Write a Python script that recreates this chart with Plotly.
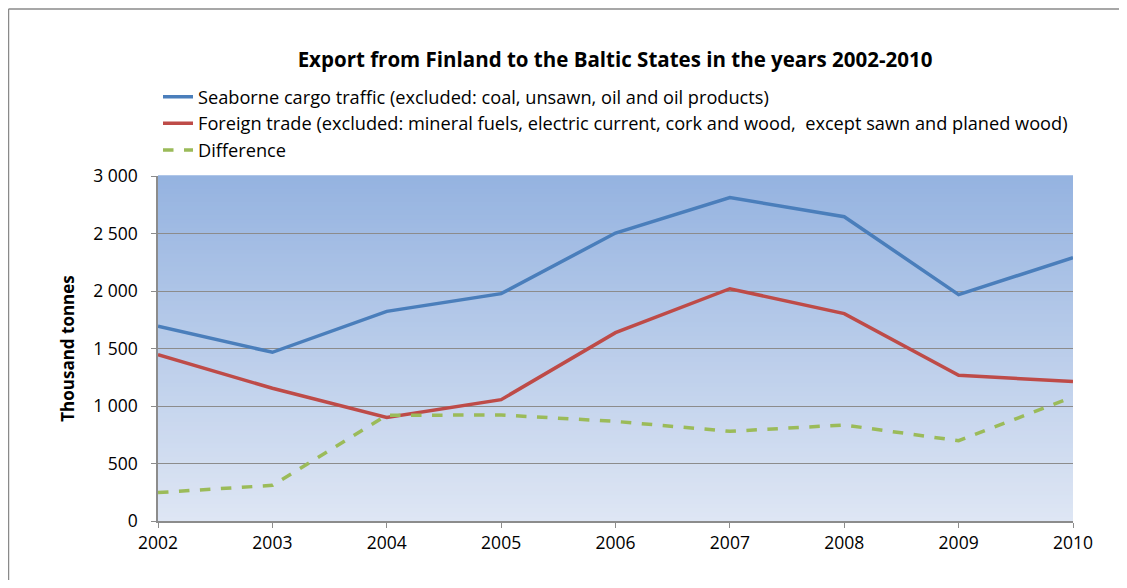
import plotly.graph_objects as go

years = [2002, 2003, 2004, 2005, 2006, 2007, 2008, 2009, 2010]
seaborne = [1693, 1467, 1823, 1977, 2504, 2812, 2646, 1968, 2290]
foreign_trade = [1446, 1154, 901, 1055, 1638, 2020, 1803, 1267, 1212]
difference = [247, 310, 919, 922, 866, 780, 835, 698, 1078]

_BLUE = '#4A7EBB'
_RED = '#BE4B48'
_GREEN = '#9BBB59'
_GRID = '#8C8C8C'
_FONT = 'Open Sans'

fig = go.Figure()
fig.add_trace(go.Scatter(
    x=years, y=seaborne, mode='lines',
    name='Seaborne cargo traffic (excluded: coal, unsawn, oil and oil products)',
    line=dict(color=_BLUE, width=3.5),
))
fig.add_trace(go.Scatter(
    x=years, y=foreign_trade, mode='lines',
    name='Foreign trade (excluded: mineral fuels, electric current, cork and wood,  except sawn and planed wood)',
    line=dict(color=_RED, width=3.5),
))
fig.add_trace(go.Scatter(
    x=years, y=difference, mode='lines', name='Difference',
    line=dict(color=_GREEN, width=3.5, dash='dash'),
))

# vertical gradient behind the plot area, built from thin strips
top = (149, 179, 224)
bottom = (222, 230, 244)
n = 80
shapes = []
for i in range(n):
    t = i / (n - 1)
    c = tuple(round(bottom[k] + (top[k] - bottom[k]) * t) for k in range(3))
    shapes.append(dict(
        type='rect', xref='x domain', yref='y domain',
        x0=0, x1=1, y0=i / n, y1=(i + 1) / n + 0.002,
        fillcolor='rgb(%d,%d,%d)' % c, line=dict(width=0), layer='below',
    ))

# chart frame (left and top edges visible)
shapes.append(dict(type='line', xref='paper', yref='paper',
                   x0=-0.1634, x1=-0.1634, y0=-0.3, y1=1.484,
                   line=dict(color='#8A8A8A', width=1.5)))
shapes.append(dict(type='line', xref='paper', yref='paper',
                   x0=-0.1634, x1=1.2, y0=1.484, y1=1.484,
                   line=dict(color='#8A8A8A', width=1.5)))

fig.update_layout(
    width=1111, height=572,
    paper_bgcolor='white', plot_bgcolor='rgba(0,0,0,0)',
    font=dict(family=_FONT, size=17.5, color='black'),
    margin=dict(l=150, r=46, t=168, b=59),
    separators='. ',
    title=dict(
        text='<b>Export from Finland to the Baltic States in the years 2002-2010</b>',
        x=0.4995, xref='paper', xanchor='center',
        y=0.909, yanchor='middle',
        font=dict(family=_FONT, size=20.5, color='black'),
    ),
    legend=dict(
        x=0.0, y=1.283, xanchor='left', yanchor='top',
        bgcolor='rgba(0,0,0,0)', font=dict(family=_FONT, size=18.2),
        tracegroupgap=0, itemwidth=30,
    ),
    shapes=shapes,
    showlegend=True,
)
fig.update_xaxes(
    range=[2002, 2010], tickvals=years, ticktext=[str(y) for y in years],
    showgrid=False, showline=True, linecolor=_GRID, linewidth=1.5,
    ticks='outside', ticklen=5, tickcolor=_GRID, zeroline=False,
    tickfont=dict(size=17.5),
)
fig.update_yaxes(
    range=[0, 3000], dtick=500, separatethousands=True,
    showgrid=True, gridcolor=_GRID, gridwidth=1,
    showline=True, linecolor=_GRID, linewidth=1.5,
    ticks='outside', ticklen=5, tickcolor=_GRID, zeroline=False,
    tickfont=dict(size=17.5), ticklabelstandoff=10,
    title=dict(text='<b>Thousand tonnes</b>', font=dict(size=17), standoff=14),
)

fig.write_html('out.html')
